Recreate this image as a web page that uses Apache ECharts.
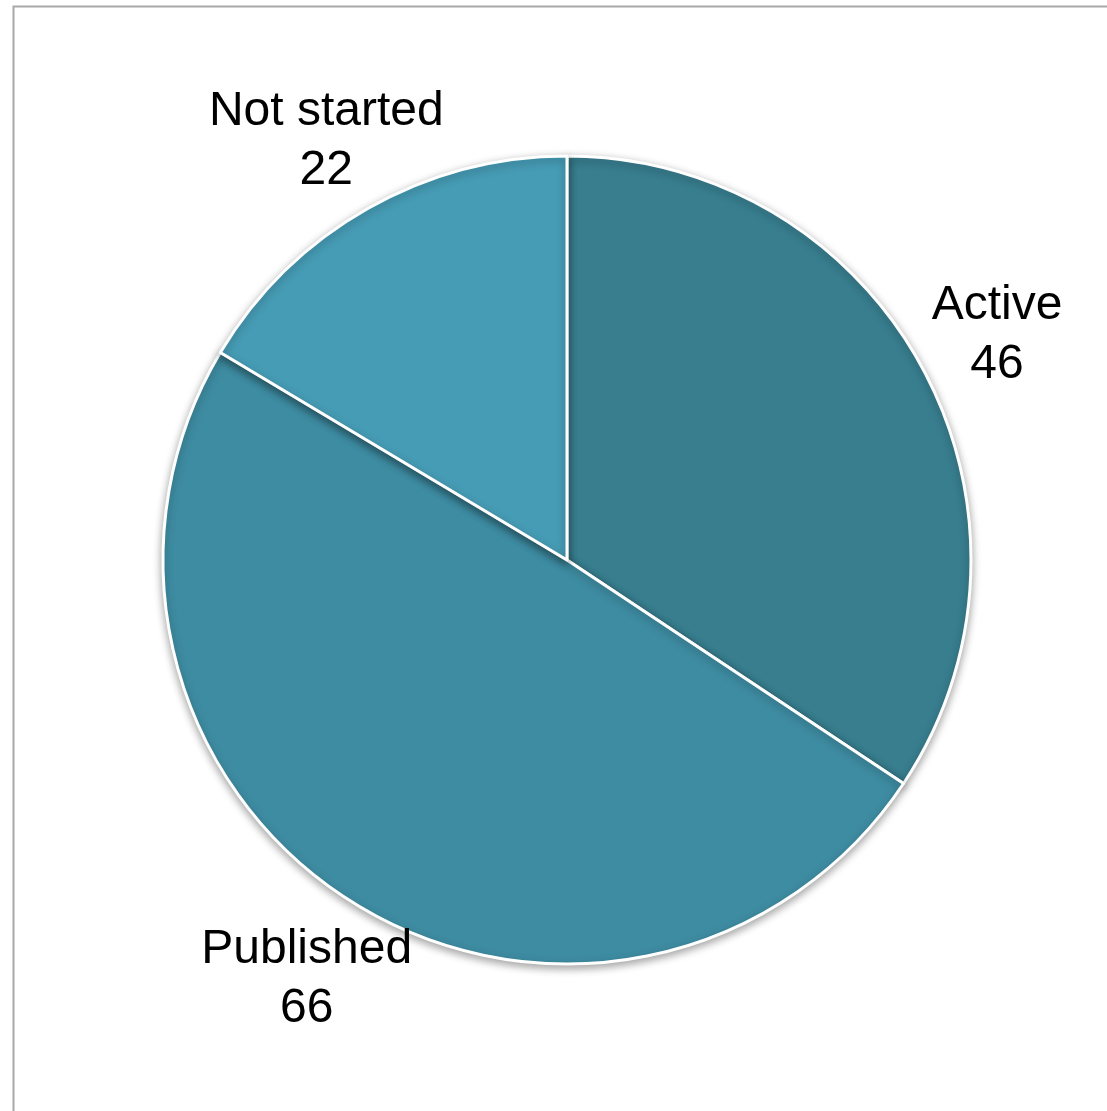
<!DOCTYPE html>
<html>
<head>
<meta charset="utf-8">
<script src="https://cdn.jsdelivr.net/npm/echarts@6/dist/echarts.min.js"></script>
<style>
html,body{margin:0;padding:0;background:#fff;}
#chart{width:1107px;height:1111px;}
</style>
</head>
<body>
<div id="chart"></div>
<script>
var categories = ["Active", "Published", "Not started"];
var values = [46, 66, 22];
var colors = ["#387E8F", "#3E8CA2", "#469CB5"];

var chart = echarts.init(document.getElementById('chart'));
var mainData = categories.map(function (c, i) {
  return { name: c, value: values[i], itemStyle: { color: colors[i] } };
});
var labelData = categories.map(function (c, i) {
  return { name: c, value: values[i] };
});
chart.setOption({
  animation: false,
  backgroundColor: '#fff',
  graphic: [{
    type: 'rect',
    left: 11, top: 4,
    shape: { width: 1200, height: 1200 },
    style: { fill: 'none', stroke: '#a8a8a8', lineWidth: 2 },
    z: 0
  }],
  series: [{
    type: 'pie',
    center: [567, 560],
    radius: 404,
    startAngle: 90,
    clockwise: true,
    silent: true,
    label: { show: false },
    labelLine: { show: false },
    itemStyle: {
      borderColor: '#ffffff',
      borderWidth: 3,
      shadowBlur: 8,
      shadowOffsetY: 3,
      shadowColor: 'rgba(0,0,0,0.35)'
    },
    data: mainData
  }, {
    type: 'pie',
    center: [567, 566],
    radius: [470, 500],
    startAngle: 90,
    clockwise: true,
    silent: true,
    itemStyle: { color: 'rgba(0,0,0,0)' },
    label: {
      show: true,
      position: 'inside',
      formatter: '{b}\n{c}',
      fontFamily: 'Liberation Sans, Arial, sans-serif',
      fontSize: 48,
      lineHeight: 59,
      color: '#000',
      align: 'center',
      textBorderWidth: 0
    },
    labelLine: { show: false },
    data: labelData
  }]
});
</script>
</body>
</html>
